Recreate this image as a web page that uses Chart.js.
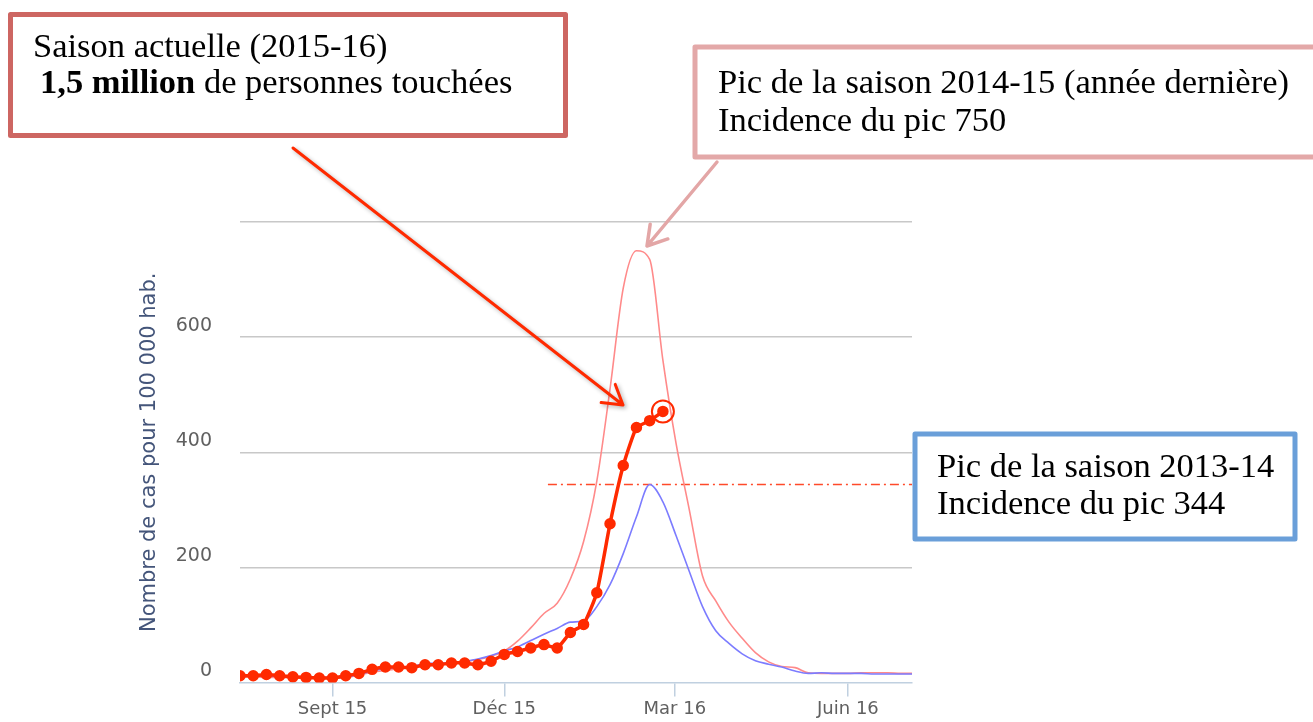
<!DOCTYPE html>
<html>
<head>
<meta charset="utf-8">
<script src="https://cdn.jsdelivr.net/npm/chart.js@4.4.0/dist/chart.umd.min.js"></script>
<style>
  html, body { margin: 0; padding: 0; background: #fff; }
  canvas { display: block; }
</style>
</head>
<body>
<canvas id="grippe" width="1313" height="722"></canvas>
<script>
// weeks counted from mid-July 2015 (week 0 = first point of the current season)
const weeks = [0, 1, 2, 3, 4, 5, 6, 7, 8, 9, 10, 11, 12, 13, 14, 15, 16, 17, 18, 19, 20,
  21, 22, 23, 24, 25, 26, 27, 28, 29, 30, 31, 32, 33, 34, 35, 36, 37, 38, 39, 40,
  41, 42, 43, 44, 45, 46, 47, 48, 49, 50, 51];

// incidence pour 100 000 hab.
const season1516 = [12, 12, 14, 12, 10, 9, 8, 8, 12, 16, 23, 27, 27, 26, 31, 31, 34, 34, 31, 37,
  49, 54, 60, 66, 60, 87, 101, 156, 276, 377, 443, 455, 471];
const season1415 = [10, 10, 9, 9, 8, 8, 7, 7, 9, 13, 18, 21, 24, 26, 29, 31, 33, 36, 40, 46,
  55, 72, 95, 120, 138, 180, 245, 350, 510, 685, 750, 735, 560, 415, 300, 185, 142, 105, 77, 52,
  36, 28, 26, 17, 16, 16, 16, 17, 17, 17, 16, 16];
const season1314 = [12, 12, 11, 11, 10, 10, 9, 9, 10, 14, 20, 24, 26, 28, 33, 34, 34, 37, 41, 47,
  55, 62, 73, 84, 94, 105, 107, 132, 170, 224, 288, 344, 314, 255, 193, 132, 90, 68, 50, 38,
  32, 27, 20, 16, 17, 16, 16, 16, 15, 15, 15, 15];

const xTickWeeks = [7, 20, 32.9, 46];
const xTickLabels = ['Sept 15', 'Déc 15', 'Mar 16', 'Juin 16'];
const xMin = 0, xMax = 50.85;
const yMax = 800, yStep = 200;

const peak1314 = 344;
const peakLineFrom = 23.3;

const red = '#ff2a00';
const pink = '#ff8a8a';
const blue = '#7c7cff';

const toPoints = vals => vals.map((v, i) => ({ x: weeks[i], y: v }));

function arrow(ctx, x1, y1, x2, y2, color, width) {
  const a = Math.atan2(y2 - y1, x2 - x1);
  const len = 22, spread = 0.55;
  ctx.strokeStyle = color;
  ctx.lineWidth = width;
  ctx.lineCap = 'round';
  ctx.lineJoin = 'round';
  ctx.beginPath();
  ctx.moveTo(x1, y1);
  ctx.lineTo(x2, y2);
  ctx.moveTo(x2 + len * Math.cos(a + Math.PI - spread), y2 + len * Math.sin(a + Math.PI - spread));
  ctx.lineTo(x2, y2);
  ctx.lineTo(x2 + len * Math.cos(a + Math.PI + spread), y2 + len * Math.sin(a + Math.PI + spread));
  ctx.stroke();
}

function box(ctx, x, y, w, h, color) {
  ctx.fillStyle = '#fff';
  ctx.fillRect(x, y, w, h);
  ctx.strokeStyle = color;
  ctx.lineWidth = 5;
  ctx.strokeRect(x, y, w, h);
}

const serif = '34.5px "Liberation Serif", serif';
const serifBold = 'bold 34.5px "Liberation Serif", serif';

const annotations = {
  id: 'annotations',
  afterDraw(chart) {
    const ctx = chart.ctx;
    ctx.save();

    // ring round the latest point
    const meta = chart.getDatasetMeta(0);
    const last = meta.data[meta.data.length - 1];
    ctx.strokeStyle = red;
    ctx.lineWidth = 2;
    ctx.beginPath();
    ctx.arc(last.x, last.y, 11, 0, Math.PI * 2);
    ctx.stroke();

    // arrows
    ctx.save();
    ctx.shadowColor = 'rgba(0,0,0,0.3)';
    ctx.shadowBlur = 4;
    ctx.shadowOffsetX = 2;
    ctx.shadowOffsetY = 2;
    arrow(ctx, 293, 148, 623, 405, red, 3);
    ctx.restore();
    arrow(ctx, 717, 162, 647, 246, '#e3a6a6', 3.5);

    // text boxes
    box(ctx, 10.5, 14.5, 555, 121, '#cd6662');
    box(ctx, 695, 47, 640, 110, '#e3a8a8');
    box(ctx, 915, 434, 380, 105, '#6a9fd9');

    ctx.fillStyle = '#000';
    ctx.textBaseline = 'alphabetic';
    ctx.textAlign = 'left';
    ctx.font = serif;
    ctx.fillText('Saison actuelle (2015-16)', 33, 57);
    ctx.font = serifBold;
    ctx.fillText('1,5 million', 40, 93);
    const bw = ctx.measureText('1,5 million').width;
    ctx.font = serif;
    ctx.fillText(' de personnes touchées', 40 + bw, 93);

    ctx.fillText('Pic de la saison 2014-15 (année dernière)', 718, 93);
    ctx.fillText('Incidence du pic 750', 718, 131);

    ctx.fillText('Pic de la saison 2013-14', 937, 477);
    ctx.fillText('Incidence du pic 344', 937, 514);

    ctx.restore();
  }
};

new Chart(document.getElementById('grippe'), {
  type: 'line',
  data: {
    datasets: [
      {
        label: '2015-16',
        data: toPoints(season1516),
        borderColor: red,
        backgroundColor: red,
        pointBackgroundColor: red,
        pointBorderColor: red,
        borderWidth: 3.5,
        pointRadius: 4,
        tension: 0.15,
        order: 0
      },
      {
        label: '2014-15',
        data: toPoints(season1415),
        borderColor: pink,
        borderWidth: 1.6,
        pointRadius: 0,
        cubicInterpolationMode: 'monotone',
        order: 2
      },
      {
        label: '2013-14',
        data: toPoints(season1314),
        borderColor: blue,
        borderWidth: 1.6,
        pointRadius: 0,
        cubicInterpolationMode: 'monotone',
        order: 1
      },
      {
        label: 'Pic 2013-14',
        data: [{ x: peakLineFrom, y: peak1314 }, { x: xMax, y: peak1314 }],
        borderColor: '#ff4a2a',
        borderWidth: 1.5,
        borderDash: [9, 4, 2, 4],
        pointRadius: 0,
        order: 3
      }
    ]
  },
  options: {
    responsive: false,
    animation: false,
    events: [],
    layout: { padding: { left: 0, right: 401, top: 222, bottom: 0 } },
    plugins: {
      legend: { display: false },
      tooltip: { enabled: false }
    },
    scales: {
      x: {
        type: 'linear',
        min: xMin,
        max: xMax,
        afterFit: s => { s.height = 39; },
        afterBuildTicks: s => { s.ticks = xTickWeeks.map(v => ({ value: v })); },
        grid: { drawOnChartArea: false, drawTicks: true, tickLength: 14, color: '#c0d0e0', lineWidth: 1.5 },
        border: { display: true, color: '#c0d0e0', width: 1.5 },
        ticks: {
          autoSkip: false,
          maxRotation: 0,
          padding: 2,
          color: '#606060',
          font: { family: 'DejaVu Sans', size: 18 },
          callback: (v, i) => xTickLabels[i]
        }
      },
      y: {
        min: 0,
        max: yMax,
        afterFit: s => { s.width = 240; },
        grid: {
          drawTicks: false,
          lineWidth: 1.5,
          color: c => (c.tick && c.tick.value === 0 ? 'rgba(0,0,0,0)' : '#c8c8c8')
        },
        border: { display: false },
        ticks: {
          stepSize: yStep,
          padding: 28,
          labelOffset: -11.5,
          color: '#606060',
          font: { family: 'DejaVu Sans', size: 19 },
          callback: v => (v === yMax ? '' : v)
        },
        title: {
          display: true,
          text: 'Nombre de cas pour 100 000 hab.',
          color: '#44557a',
          font: { family: 'DejaVu Sans', size: 21 },
          padding: { top: 137, bottom: 0 }
        }
      }
    }
  },
  plugins: [annotations]
});
</script>
</body>
</html>
